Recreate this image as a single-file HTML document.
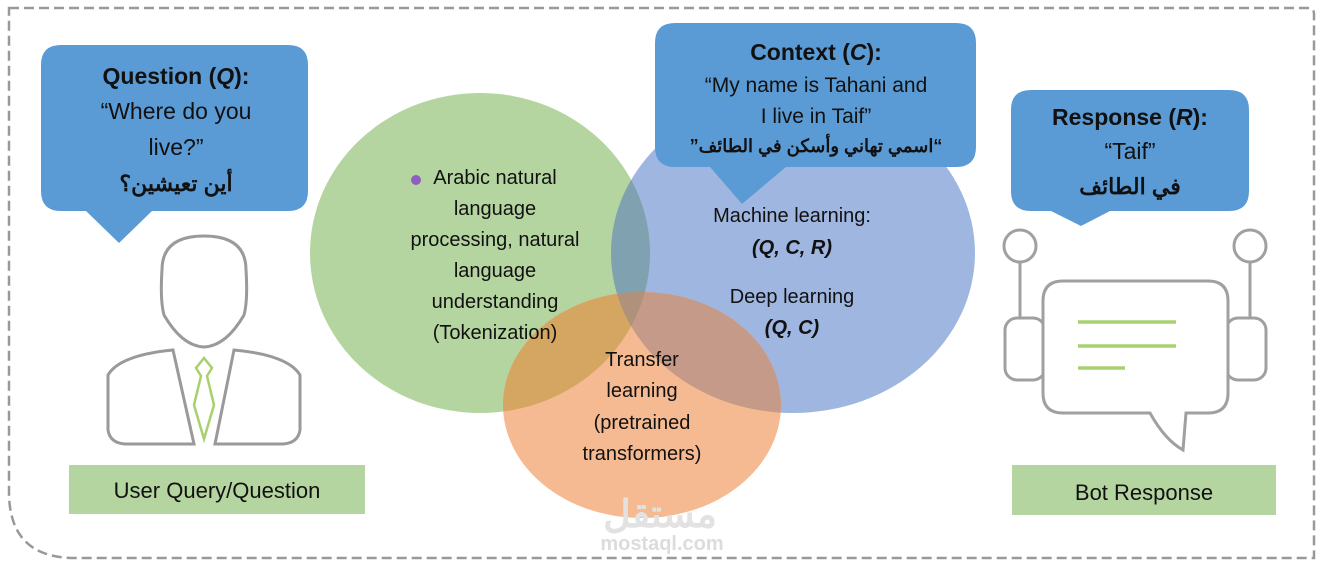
<!DOCTYPE html>
<html><head><meta charset="utf-8"><style>
html,body{margin:0;padding:0;background:#fff}
svg{display:block}
text{font-family:"Liberation Sans","Noto Sans CJK SC",sans-serif;fill:#111}
</style></head><body>
<svg width="1322" height="566" viewBox="0 0 1322 566" xmlns="http://www.w3.org/2000/svg">
<defs>
<clipPath id="cG"><ellipse cx="480" cy="253" rx="170" ry="160"/></clipPath>
<clipPath id="cB"><ellipse cx="793" cy="253" rx="182" ry="160"/></clipPath>
</defs>
<path d="M9 8 H1308 Q1314 8 1314 14 V558 H75 Q9 558 9 492 Z" fill="none" stroke="#999" stroke-width="2.5" stroke-dasharray="10 5"/>
<!-- Venn -->
<ellipse cx="480" cy="253" rx="170" ry="160" fill="#b5d5a0"/>
<ellipse cx="793" cy="253" rx="182" ry="160" fill="#9fb7e0"/>
<ellipse cx="642" cy="405" rx="139" ry="113" fill="#f5ba92"/>
<ellipse cx="793" cy="253" rx="182" ry="160" fill="#7fa1b0" clip-path="url(#cG)"/>
<ellipse cx="642" cy="405" rx="139" ry="113" fill="#d4a661" clip-path="url(#cG)"/>
<ellipse cx="642" cy="405" rx="139" ry="113" fill="#c69a88" clip-path="url(#cB)"/>
<g clip-path="url(#cB)"><ellipse cx="642" cy="405" rx="139" ry="113" fill="#b0917a" clip-path="url(#cG)"/></g>
<!-- Question bubble -->
<path d="M61 45 H288 Q308 45 308 65 V191 Q308 211 288 211 H152 L119 243 L86 211 H61 Q41 211 41 191 V65 Q41 45 61 45 Z" fill="#5b9bd5"/>
<text x="176" y="84" font-size="23" font-weight="bold" text-anchor="middle">Question (<tspan font-style="italic">Q</tspan>):</text>
<text x="176" y="119" font-size="23" text-anchor="middle">“Where do you</text>
<text x="176" y="155" font-size="23" text-anchor="middle">live?”</text>
<text x="176" y="191" font-size="22" font-weight="bold" text-anchor="middle">أين تعيشين؟</text>
<!-- Context bubble -->
<path d="M675 23 H956 Q976 23 976 43 V147 Q976 167 956 167 H786 L742 204 L710 167 H675 Q655 167 655 147 V43 Q655 23 675 23 Z" fill="#5b9bd5"/>
<text x="816" y="60" font-size="23" font-weight="bold" text-anchor="middle">Context (<tspan font-style="italic">C</tspan>):</text>
<text x="816" y="92" font-size="21" text-anchor="middle">“My name is Tahani and</text>
<text x="816" y="123" font-size="21" text-anchor="middle">I live in Taif”</text>
<text x="816" y="152" font-size="18" font-weight="bold" text-anchor="middle">”اسمي تهاني وأسكن في الطائف“</text>
<!-- Response bubble -->
<path d="M1031 90 H1229 Q1249 90 1249 110 V191 Q1249 211 1229 211 H1110 L1081 226 L1051 211 H1031 Q1011 211 1011 191 V110 Q1011 90 1031 90 Z" fill="#5b9bd5"/>
<text x="1130" y="125" font-size="23" font-weight="bold" text-anchor="middle">Response (<tspan font-style="italic">R</tspan>):</text>
<text x="1130" y="159" font-size="23" text-anchor="middle">“Taif”</text>
<text x="1130" y="194" font-size="22" font-weight="bold" text-anchor="middle">في الطائف</text>
<!-- Venn text -->
<circle cx="416" cy="180" r="5" fill="#8e5fc0"/>
<g font-size="20" text-anchor="middle">
<text x="495" y="184">Arabic natural</text>
<text x="495" y="215">language</text>
<text x="495" y="246">processing, natural</text>
<text x="495" y="277">language</text>
<text x="495" y="308">understanding</text>
<text x="495" y="339">(Tokenization)</text>
<text x="792" y="222">Machine learning:</text>
<text x="792" y="254" font-weight="bold" font-style="italic">(Q, C, R)</text>
<text x="792" y="303">Deep learning</text>
<text x="792" y="334" font-weight="bold" font-style="italic">(Q, C)</text>
<text x="642" y="366">Transfer</text>
<text x="642" y="397">learning</text>
<text x="642" y="429">(pretrained</text>
<text x="642" y="460">transformers)</text>
</g>
<!-- watermark -->
<text x="660" y="527" font-size="38" font-weight="bold" text-anchor="middle" style="fill:#e2e2e2">مستقل</text>
<text x="662" y="550" font-size="20" font-weight="bold" text-anchor="middle" style="fill:#dcdcdc">mostaql.com</text>
<!-- person -->
<g fill="none" stroke="#9a9a9a" stroke-width="3">
<path d="M204 236 Q162 236 162 270 Q160 300 164 315 Q182 346 204 347 Q226 346 244 315 Q248 300 246 270 Q246 236 204 236 Z"/>
<path d="M173 350 Q120 355 108 375 L108 430 Q110 443 125 444 L194 444 Z"/>
<path d="M234 350 Q288 355 300 375 L300 430 Q298 443 283 444 L215 444 Z"/>
</g>
<path d="M204 358 L212 368 L207 376 L214 405 L204 439 L194 405 L201 376 L196 368 Z" fill="none" stroke="#a8d06e" stroke-width="2.5"/>
<!-- robot -->
<g fill="none" stroke="#a0a0a0" stroke-width="3">
<circle cx="1020" cy="246" r="16"/><circle cx="1250" cy="246" r="16"/>
<line x1="1020" y1="262" x2="1020" y2="318"/><line x1="1250" y1="262" x2="1250" y2="318"/>
<rect x="1005" y="318" width="40" height="62" rx="12"/>
<rect x="1226" y="318" width="40" height="62" rx="12"/>
<path d="M1063 281 H1208 Q1228 281 1228 301 V393 Q1228 413 1208 413 H1186 L1183 450 Q1165 440 1150 413 H1063 Q1043 413 1043 393 V301 Q1043 281 1063 281 Z" fill="#fff"/>
</g>
<g stroke="#a8d06e" stroke-width="3.5">
<line x1="1078" y1="322" x2="1176" y2="322"/><line x1="1078" y1="346" x2="1176" y2="346"/><line x1="1078" y1="368" x2="1125" y2="368"/>
</g>
<!-- labels -->
<rect x="69" y="465" width="296" height="49" fill="#b5d5a0"/>
<text x="217" y="498" font-size="22" text-anchor="middle">User Query/Question</text>
<rect x="1012" y="465" width="264" height="50" fill="#b5d5a0"/>
<text x="1144" y="500" font-size="22" text-anchor="middle">Bot Response</text>
</svg>
</body></html>
